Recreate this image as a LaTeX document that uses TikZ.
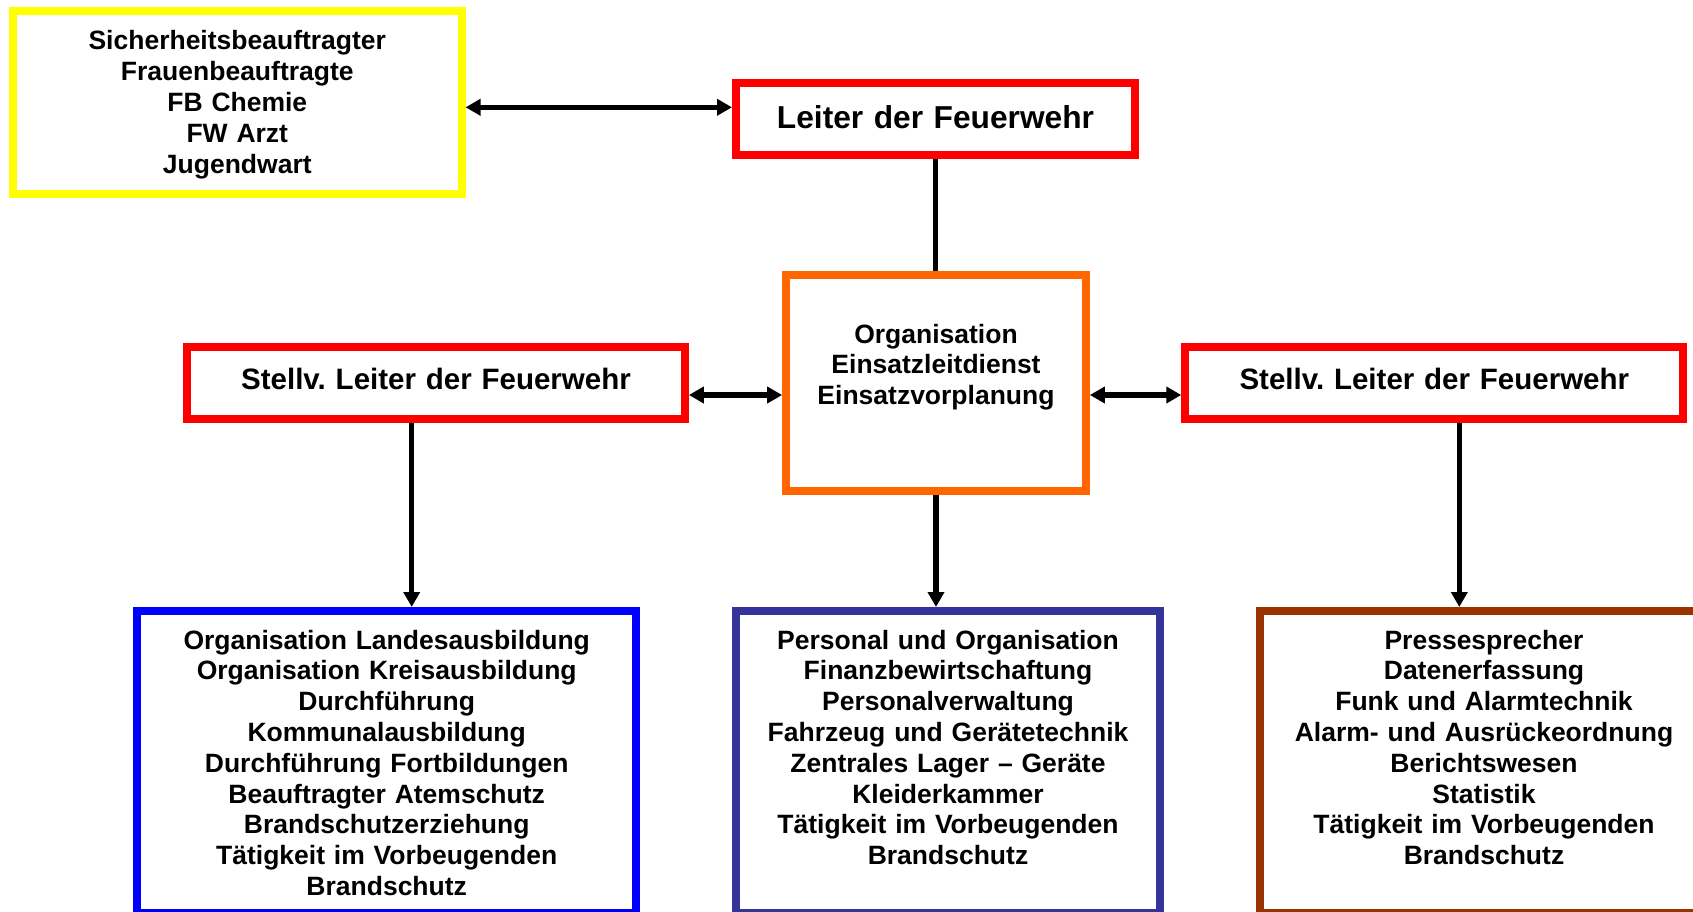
\documentclass[tikz,border=0pt]{standalone}
\usepackage{fontspec}
\setmainfont{Liberation Sans}
\usetikzlibrary{arrows.meta}
\definecolor{gelb}{HTML}{FFFF00}
\definecolor{rot}{HTML}{FF0000}
\definecolor{orange}{HTML}{FF6600}
\definecolor{blau}{HTML}{0000FF}
\definecolor{marine}{HTML}{333399}
\definecolor{braun}{HTML}{993300}
\tikzset{
  kasten/.style={draw=#1, line width=8pt, fill=white, inner sep=0pt, align=center, anchor=base,
    font=\bfseries\fontsize{26.5}{30.8}\selectfont},
  titel/.style={font=\bfseries\fontsize{#1}{#1}\selectfont},
  linie/.style={line width=5.5pt},
  pfeil/.style={linie, -{Triangle[length=15pt, width=16pt]}},
  doppelpfeil/.style={linie, {Triangle[length=15pt, width=16pt]}-{Triangle[length=15pt, width=16pt]}},
}
\begin{document}
\begin{tikzpicture}[x=1pt, y=-1pt]
    \useasboundingbox (0, 0) rectangle (1693, 912);
    \node[kasten=gelb, text width=448.5pt, text height=39pt, text depth=144pt] (beauftragte) at (237.3, 50)
      {Sicherheitsbeauftragter\\Frauenbeauftragte\\FB Chemie\\FW Arzt\\Jugendwart};
    \node[kasten=rot, titel=31.7, text width=399pt, text height=45.3pt, text depth=26.7pt] (leiter) at (935.5, 128.3)
      {Leiter der Feuerwehr};
    \node[kasten=orange, text width=299.7pt, text height=68pt, text depth=147.5pt] (organisation) at (936, 343)
      {Organisation\\Einsatzleitdienst\\Einsatzvorplanung};
    \node[kasten=rot, titel=29.5, text width=497.7pt, text height=42.6pt, text depth=29.5pt] (stellvlinks) at (436, 389.3)
      {Stellv.\ Leiter der Feuerwehr};
    \node[kasten=rot, titel=29.5, text width=498pt, text height=42.6pt, text depth=29.5pt] (stellvrechts) at (1434.3, 389.3)
      {Stellv.\ Leiter der Feuerwehr};
    \node[kasten=blau, text width=498.7pt, text height=38pt, text depth=264pt] (ausbildung) at (386.7, 649)
      {Organisation Landesausbildung\\Organisation Kreisausbildung\\Durchführung\\Kommunalausbildung\\
       Durchführung Fortbildungen\\Beauftragter Atemschutz\\Brandschutzerziehung\\
       Tätigkeit im Vorbeugenden\\Brandschutz};
    \node[kasten=marine, text width=424pt, text height=38pt, text depth=264pt] (verwaltung) at (948, 649)
      {Personal und Organisation\\Finanzbewirtschaftung\\Personalverwaltung\\Fahrzeug und Gerätetechnik\\
       Zentrales Lager – Geräte\\Kleiderkammer\\Tätigkeit im Vorbeugenden\\Brandschutz};
    \node[kasten=braun, text width=448pt, text height=38pt, text depth=264pt] (presse) at (1484, 649)
      {Pressesprecher\\Datenerfassung\\Funk und Alarmtechnik\\Alarm- und Ausrückeordnung\\
       Berichtswesen\\Statistik\\Tätigkeit im Vorbeugenden\\Brandschutz};
    \draw[doppelpfeil] (beauftragte.east |- 0, 107.3) -- (leiter.west |- 0, 107.3);
    \draw[linie] (leiter.south) -- (leiter.south |- organisation.north);
    \draw[doppelpfeil] (stellvlinks.east |- 0, 395) -- (organisation.west |- 0, 395);
    \draw[doppelpfeil] (organisation.east |- 0, 395) -- (stellvrechts.west |- 0, 395);
    \draw[pfeil] (411.7, 0 |- stellvlinks.south) -- (411.7, 0 |- ausbildung.north);
    \draw[pfeil] (organisation.south) -- (organisation.south |- verwaltung.north);
    \draw[pfeil] (1459.3, 0 |- stellvrechts.south) -- (1459.3, 0 |- presse.north);
\end{tikzpicture}
\end{document}
